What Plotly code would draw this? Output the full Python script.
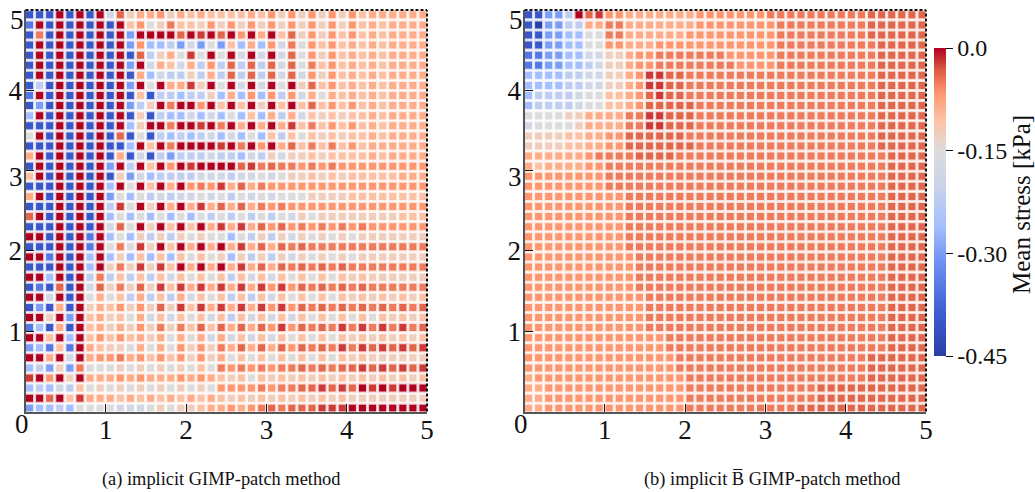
import numpy as np
import plotly.graph_objects as go

# Stress level codes (one character per cell), top row first.
CODES = "0123456789abcdef"
LEVELS_KPA = [-0.45, -0.40, -0.35, -0.30, -0.26, -0.22, -0.18, -0.15,
              -0.125, -0.105, -0.085, -0.066, -0.05, -0.038, -0.02, 0.0]

PANEL_A = [
"111f1f1f6d8aab8a9a9" "999a9b8b8b8b8b9aaaaaa",
"2f1f1f1f1f9b78c998b" "8b8b8b8b8b8b8b9a9aaaa",
"1c1f1f1f1f3ffffdfef" "dfbfaf9d8b8b9b9a9aaaa",
"1f1f1f1f1f3b4453637" "394a4b6c7b9b9a9a9aaaa",
"1f1f1f1f1f1d58a7e7f" "7f6f6f6d7b8b9a9a9aaaa",
"1f1f1f1f1f3f6a96a5b" "5d5d5d6d7c9b9a9a9aaaa",
"1f1f1f1f1f1a465585a" "5d5d5d6d6b8b9a9a9aaaa",
"151f1f1f1f3f7faae8f" "7f6f6f7f8d9b9a9a9aaaa",
"2f1f1f1f1f191554558" "4a4b4b5b6a7a9a9a9aaaa",
"131f1f1f1f358fcffbf" "9f9f8f9f9d9b9b9a9aaaa",
"4f1f1f1f1f181544646" "47494a5a698989" "9a9aaaa",
"111f1f1f1f48ffcffef" "cfafafae9c9b9b9a9aaaa",
"7f1f1f1f1d171545456" "46474959798989" "9a9aaaa",
"111f1f1f114f9fcffff" "efcfbfad9c9c9b9aaaaaa",
"af1f1f1f1a161535556" "554658688989" "999a9aaaa",
"1f1f1f1f3f5f9fbfeff" "ffdecdccbcbcbbbbbbbbb",
"9f1f1f1f18364555566" "6566767889" "8989" "9999" "aaa",
"111f1f1f4f7f9fafbcb" "eadacbbbbbbbbbbbbbbbb",
"af1f1f1f37475656676" "7576767778888" "99999999",
"111f1f1f5e7f8fafaea" "dadacbcb" "bbbbbbbbbbbbb",
"df1f1f1f47474747475" "7575757687" "88888888" "999",
"111f1f1f6d7f8f9f9fa" "eaeadbdbcbcbcbcbbbbbb",
"ff1f1f2f47485858787" "74758586878787" "8888888",
"111f1f2f7c7e8f9fafa" "faeadadcdc" "ccccccccccc",
"ff2f1f4f48494949797" "84858586878787" "8888888",
"111f1f4f8c8e8e9fafa" "faeadadcdcdcdc" "ccccccc",
"ff4f1f5c59595969797" "95969697979798" "9888888",
"121d1f6d8c8d8e9eaea" "eaeaebebdcdcdcdc" "ccccc",
"ff6f1f7a795a595a697" "95959697979798" "9898989",
"131a1f8a9b8b8d8e9ea" "eaeaebeb" "dcdcdcdcdcdcd",
"ff8f3f9a897a6969796" "959696969797979798989",
"241a1f9a8a8b8c8c9d9" "dadadbebdcdcececececd",
"ff9f4f9b9b9a8a7a7a6" "a6" "9696" "979797" "98989898" "9",
"34292fa9887a7a7b8b8" "cadadadbdcdcecededede",
"ffaf6fabbcab9b9b8b8" "a7" "9797979797" "9898" "88888",
"45383c7778787878797" "cbcbcbccdcdcddededede",
"efbf8faaababaaababa" "9897" "9898989898989898" "9",
"4546597878787878787" "bbbbcbccddededfefefff",
"ffdf9eaaa9a9a9a9a9a" "9898989898989" "88888888",
"344547777666787889a" "ababcdcdddeee" "ffffffff",
]

PANEL_B = [
"11335fdebbaaaaaaabb" "bbbbbcccccccccc" "dddddd",
"103355aaccaaaaaaabb" "bbbbbbccccccccc" "dddddd",
"11334477ccaaaaaabbb" "bbbbbbccccccccc" "dddddd",
"11334477bbaaabbbbbb" "bbbbbbcccccccccc" "ddddd",
"2233446688abbcccccc" "cbbbbbcccccccccc" "ddddd",
"2233445688abbcccccc" "ccbbbbcccccccccc" "ddddd",
"4444556688abeeddccc" "cccccccccccccccc" "ddddd",
"4444556688abeeddccc" "cccccccccccccccc" "ddddd",
"4555567799abdeddccc" "cccccccccccccccc" "ddddd",
"4555567799abdddddcc" "cccccccccccccccc" "ddddd",
"777788aaaacceedddcc" "cccccccccccccccc" "ddddd",
"677778aaaacceedddcc" "cccccccccccccccc" "ddddd",
"888899aabbddddddccc" "cccccccccccccccc" "ddddd",
"888899aabbdddddddcc" "cccccccccccccccc" "ddddd",
"aaaaaabcccc" "ddddcccc" "ccccccccccccccccc" "dddd",
"a9aaaabbcc" "ccccccccc" "ccccccccccccccccc" "dddd",
"bbbbbbbbcc" "ccccccccc" "ccccccccccccccccc" "dddd",
"bbbbbbbbcc" "ccccccccc" "ccccccccccccccccc" "dddd",
"bbbbbbbbbb" "ccccccccc" "ccccccccccccccccc" "dddd",
"bbbbbbbbbb" "ccccccccc" "ccccccccccccccccc" "dddd",
"bbbbbbbbbb" "ccccccccc" "ccccccccccccccccc" "dddd",
"bbbbbbbbbb" "ccccccccc" "ccccccccccccccccc" "dddd",
"bbbbbbbbbb" "ccccccccc" "ccccccccccccccccc" "dddd",
"bbbbbbbbbb" "ccccccccc" "ccccccccccccccccc" "dddd",
"bbbbbbbbbb" "bcccccccc" "ccccccccccccccccc" "dddd",
"bbbbbbbbbb" "bcccccccc" "ccccccccccccccccc" "dddd",
"bbbbbbbbbb" "bcccccccc" "ccccccccccccccccc" "dddd",
"bbbbbbbbbb" "bcccccccc" "ccccccccccccccccc" "dddd",
"bbbbbbbbbb" "bbccccccc" "ccccccccccccccccc" "dddd",
"bbbbbbbbbb" "bbccccccc" "ccccccccccccccccc" "dddd",
"bbbbbbbbbb" "bbccccccc" "ccccccccccccccccc" "dddd",
"bbbbbbbbbb" "bbccccccc" "ccccccccccccccccc" "dddd",
"bbbbbbbbbb" "bbbbccccc" "ccccccccccccccccc" "dddd",
"bbbbbbbbbb" "bbbbccccc" "ccccccccccccccccc" "dddd",
"bbbbbbbbbb" "bbbbbcccc" "ccccccccccccccc" "dddddd",
"bbbbbbbbbb" "bbbbbcccc" "ccccccccccccccc" "dddddd",
"abbbbbbbbb" "bbbbbbccc" "ccccccccccccccc" "dddddd",
"aabbbbbbbb" "bbbbbbccc" "cccccccccc" "ddddddddddd",
"aabbbbbbbb" "bbbbbbccc" "cccccccccc" "ddddddddddd",
"aabbbbbbbb" "bbbbbbccc" "cccccccc" "ddddddddddddd",
]

COLUMN_CENTRES = np.linspace(0.05, 4.95, 40)
ROW_CENTRES = np.linspace(4.94, 0.04, 40)
TICKS_X = [0, 1, 2, 3, 4, 5]
TICKS_Y = [1, 2, 3, 4, 5]
LABELS_X = ["", "1", "2", "3", "4", "5"]
LABELS_Y = ["1", "2", "", "4", ""]
CB_VALUES = [0.0, -0.15, -0.30, -0.45]
CB_LABELS = ["0.0", "-0.15", "-0.30", "-0.45"]
CAPTIONS = ["(a) implicit GIMP-patch method", "(b) implicit B\u0305 GIMP-patch method"]
CB_TITLE = "Mean stress [kPa]"

for panel in (PANEL_A, PANEL_B):
    assert len(panel) == 40
    for n, row in enumerate(panel):
        assert len(row) == 40, (n, len(row), row)


def values(panel):
    return [[LEVELS_KPA[CODES.index(c)] for c in row] for row in panel]


W, H = 1035, 492
SERIF = "Liberation Serif, Times New Roman, serif"
TICK_SIZE = 27
X0, Y0 = np.meshgrid(COLUMN_CENTRES, ROW_CENTRES)

fig = go.Figure()
for i, panel in enumerate((PANEL_A, PANEL_B)):
    v = np.array(values(panel)).ravel()
    ax = "" if i == 0 else "2"
    fig.add_trace(go.Scatter(x=X0.ravel(), y=Y0.ravel(), mode="markers", xaxis="x" + ax, yaxis="y" + ax,
                             hoverinfo="skip", showlegend=False,
                             marker=dict(symbol="square", size=9.5, opacity=0.22, color=v, coloraxis="coloraxis")))
    fig.add_trace(go.Scatter(x=X0.ravel(), y=Y0.ravel(), mode="markers", xaxis="x" + ax, yaxis="y" + ax,
                             showlegend=False,
                             marker=dict(symbol="square", size=7, color=v, coloraxis="coloraxis")))

axis_common = dict(range=[0, 5], showgrid=False, zeroline=False, ticks="inside", ticklen=8, tickwidth=1,
                   tickcolor="#111", showline=True, linewidth=2, linecolor="#555",
                   tickfont=dict(family=SERIF, size=TICK_SIZE, color="#111"))
x_axis = dict(tickvals=TICKS_X, ticktext=LABELS_X, ticklabelstandoff=-7, **axis_common)
y_axis = dict(tickvals=TICKS_Y, ticktext=LABELS_Y, ticklabelstandoff=-4, **axis_common)


def tick_text(x, y, text):
    return dict(x=x / W, y=1 - y / H, xref="paper", yref="paper", text=text, showarrow=False, xanchor="center",
                yanchor="middle", font=dict(family=SERIF, size=TICK_SIZE, color="#111"))


def caption(x, text):
    return dict(x=x / W, y=1 - 479 / H, xref="paper", yref="paper", text=text, showarrow=False, xanchor="center",
                yanchor="middle", font=dict(family=SERIF, size=18.4, color="#111"))


fig.update_layout(
    width=W, height=H, margin=dict(l=0, r=0, t=0, b=0, autoexpand=False), plot_bgcolor="white", paper_bgcolor="white",
    xaxis=dict(domain=[25.5 / W, 427 / W], anchor="y", **x_axis),
    yaxis=dict(domain=[1 - 411.5 / H, 1 - 10 / H], anchor="x", **y_axis),
    xaxis2=dict(domain=[524.5 / W, 926 / W], anchor="y2", **x_axis),
    yaxis2=dict(domain=[1 - 411.5 / H, 1 - 10 / H], anchor="x2", **y_axis),
    coloraxis=dict(cmin=-0.45, cmax=0.0,
                   colorscale=[[0, "#2a3fa6"], [0.13, "#3c5bce"], [0.30, "#6c90f2"], [0.42, "#a3beff"],
                               [0.55, "#c9d3ea"], [0.667, "#dcdcdc"], [0.76, "#fcc4a8"], [0.85, "#ff9a72"],
                               [0.93, "#dc5a42"], [1, "#af0020"]],
                   colorbar=dict(x=934 / W, xanchor="left", y=1 - 356 / H, yanchor="bottom", len=308 / H, lenmode="fraction",
                                 xpad=0, ypad=0,
                                 thickness=12, outlinewidth=0, ticks="outside", ticklen=7, tickwidth=1, tickcolor="#111",
                                 tickvals=CB_VALUES, ticktext=CB_LABELS,
                                 tickfont=dict(family=SERIF, size=24, color="#111"))),
    annotations=[
        caption(221, CAPTIONS[0]), caption(772, CAPTIONS[1]),
        dict(x=1021 / W, y=1 - 205 / H, xref="paper", yref="paper", text=CB_TITLE, textangle=-90, showarrow=False,
             xanchor="center", yanchor="middle", font=dict(family=SERIF, size=25, color="#111")),
        tick_text(17, 20, "5"), tick_text(16, 177, "3"), tick_text(22, 424, "0"),
        tick_text(516, 20, "5"), tick_text(515, 177, "3"), tick_text(521, 424, "0"),
    ],
    shapes=[
        dict(type="line", xref=f"x{a} domain", yref=f"y{a} domain", x0=x0, x1=x1, y0=y0, y1=y1,
             line=dict(color="#111", width=2, dash="3px,2px"))
        for a in ("", "2") for (x0, x1, y0, y1) in [(0, 1, 1, 1), (1, 1, 0, 1)]
    ],
)

fig.write_html("out.html", post_script="document.body.style.margin='0';", config={"displayModeBar": False})
